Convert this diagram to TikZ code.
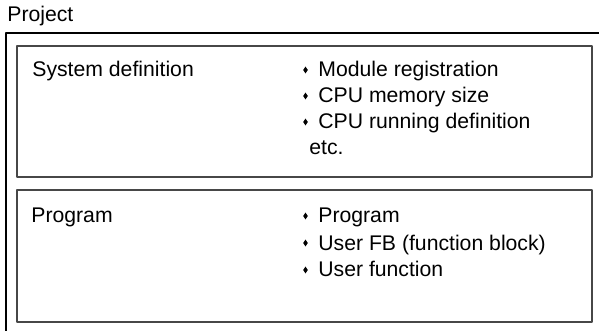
\documentclass[tikz,border=0pt]{standalone}
\usepackage{fontspec}
\setmainfont{Liberation Sans}
\usetikzlibrary{shapes.geometric}

\begin{document}
\begin{tikzpicture}[line cap=round,line join=round,x=0.5pt,y=-0.5pt,
  txt/.style={anchor=base west,inner sep=0pt,font=\fontsize{10.6}{13}\selectfont},
  dmd/.style={diamond,fill=black,inner sep=0pt,minimum width=2.5pt,minimum height=3.6pt},
  panel/.style={draw=black!72,line width=0.75pt}]
\useasboundingbox (0,0) rectangle (599,331);
\clip (0,0) rectangle (599,331);
% outer frame (runs off the picture right and below)
\draw [line width=0.65pt] (6,33) rectangle (640,360);
\draw [panel] (17,46) rectangle (592,177);
\draw [panel] (17,190) rectangle (592,322);

\node [txt] (project) at (7,22) {Project};

% system definition panel
\node [txt] (sysdef) at (32,77) {System definition};
\foreach \t [count=\i] in {Module registration,CPU memory size,CPU running definition} {
  \node [dmd] (sb\i) at (305.5,{70+26*(\i-1)}) {};
  \node [txt] (sd\i) at (318,{77+26*(\i-1)}) {\t};
}
\node [txt] (etc) at (309,155) {etc.};

% program panel
\node [txt] (prog) at (31,223) {Program};
\foreach \t [count=\i] in {Program,User FB (function block),User function} {
  \node [dmd] (pb\i) at (305.5,{216+27*(\i-1)}) {};
  \node [txt] (pg\i) at (318,{223+27*(\i-1)}) {\t};
}
\end{tikzpicture}
\end{document}
